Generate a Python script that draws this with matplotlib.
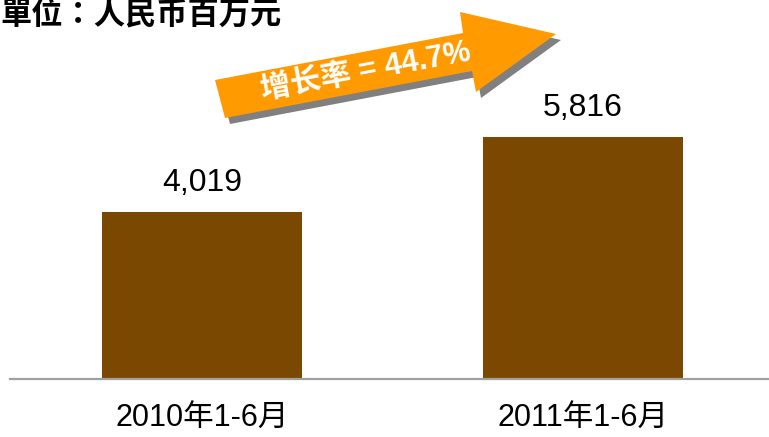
import matplotlib
matplotlib.use("Agg")
import matplotlib.pyplot as plt
from matplotlib import font_manager
from matplotlib.patches import Polygon

# data
periods = ["2010年1-6月", "2011年1-6月"]
revenue = [4019, 5816]
unit_label = "單位：人民币百万元"

W, H = 769, 437
BAR_COLOR = "#7A4800"
ARROW_COLOR = "#FF9A00"

installed = {f.name for f in font_manager.fontManager.ttflist}
narrow = "Liberation Sans Narrow" if "Liberation Sans Narrow" in installed else "Liberation Sans"
tick_size = 23 if narrow == "Liberation Sans Narrow" else 22

plt.rcParams["font.family"] = ["Liberation Sans", "Noto Sans CJK SC", "DejaVu Sans"]

fig = plt.figure(figsize=(W / 100, H / 100), dpi=100)
ax = fig.add_axes([10 / W, (H - 379) / H, (W - 10) / W, 379 / H])

x = list(range(len(periods)))
ax.bar(x, revenue, width=0.525, color=BAR_COLOR)
ax.set_xlim(-0.504, 1.488)
ax.set_ylim(0, 9121)

for xi, v in zip(x, revenue):
    ax.annotate(f"{v:,}", xy=(xi, v), xytext=(0, 21), textcoords="offset points",
                ha="center", va="center", fontsize=23, color="black")

ax.set_xticks(x)
ax.set_xticklabels(periods, fontsize=tick_size,
                   family=[narrow, "Noto Sans CJK SC"])
ax.tick_params(axis="x", length=0, pad=17)
ax.set_yticks([])
for side in ["top", "left", "right"]:
    ax.spines[side].set_visible(False)
ax.spines["bottom"].set_color("#A0A0A0")
ax.spines["bottom"].set_linewidth(1.6)

# unit label, top left
fig.text(0 / W, 1 - 15 / H, unit_label, fontsize=22.5, fontweight="bold",
         family=["Noto Sans CJK TC", "Noto Sans CJK SC"], ha="left", va="center")

# growth arrow (pixel outline, y measured from top)
arrow_px = [(215, 80), (463, 33), (460, 12), (556, 34), (476, 92), (472, 71), (225, 118)]


def to_fig(pts, dx=0, dy=0):
    return [((px + dx) / W, 1 - (py + dy) / H) for px, py in pts]


shadow = Polygon(to_fig(arrow_px, 5, 6), closed=True, transform=fig.transFigure,
                 facecolor="#808080", edgecolor="none")
arrow = Polygon(to_fig(arrow_px), closed=True, transform=fig.transFigure,
                facecolor=ARROW_COLOR, edgecolor="none")
fig.patches.extend([shadow, arrow])

growth = (revenue[1] / revenue[0] - 1) * 100
fig.text(366 / W, 1 - 72 / H, f"增长率 = {growth:.1f}%", rotation=10.5,
         rotation_mode="anchor", ha="center", va="center", color="white",
         fontsize=22, fontweight="bold",
         family=["Liberation Sans", "Noto Sans CJK SC"])

fig.savefig("out.png", dpi=100)
